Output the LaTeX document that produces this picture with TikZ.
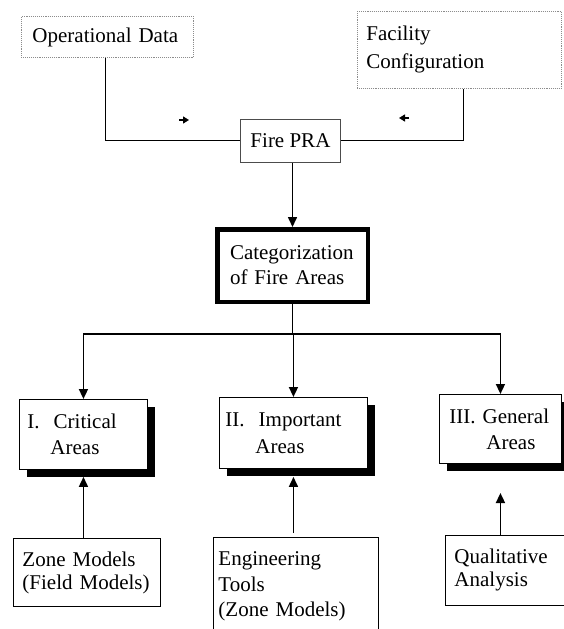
\documentclass[tikz,border=0pt]{standalone}
\usepackage{fontspec}
\setmainfont{Liberation Serif}
\usetikzlibrary{arrows.meta}
\usetikzlibrary{shadows}
\usetikzlibrary{calc}

\begin{document}
\begin{tikzpicture}[x=1pt, y=-1pt,
      font=\fontsize{21}{25}\selectfont,
      box/.style={draw=black, line width=0.9pt, anchor=north west, align=left, inner ysep=0pt, fill=white},
      source/.style={box, draw=black!45, densely dotted},
      shade/.style={box, drop shadow={shadow xshift=8pt, shadow yshift=-8pt, fill=black, opacity=1}},
      link/.style={line width=1pt},
      feed/.style={line width=1.6pt, -{Triangle[width=9pt, length=10pt]}},
      stray/.style={line width=1.4pt, -{Triangle[width=7pt, length=6pt]}}
    ]
    \fill[white] (0,0) rectangle (563,629);
    \useasboundingbox (0,0) rectangle (563,629);

    % inputs
    \node [source, minimum width=172pt, minimum height=41pt, inner xsep=11pt, text width=150pt] (opdata) at (21,16) {Operational Data};
    \node [source, minimum width=204pt, minimum height=77pt, inner xsep=9pt, text width=186pt,
        font=\fontsize{21}{28}\selectfont] (facility) at (357,11) {Facility\\Configuration};
    \node [box, draw=black!70, minimum width=100pt, minimum height=43pt, inner xsep=0pt, align=center] (firepra) at (240,119) {Fire PRA};
    \node [box, line width=4.5pt, minimum width=150.5pt, minimum height=72.5pt, inner xsep=12.75pt, text width=125pt] (categ) at (215,227) {Categorization\\of Fire Areas};

    % area classes
    \node [shade, minimum width=128pt, minimum height=70pt, inner xsep=8pt, text width=112pt,
        font=\fontsize{21}{26}\selectfont] (boxI) at (19,399) {I.\ \ Critical\\\hspace*{23pt}Areas};
    \node [shade, minimum width=148pt, minimum height=71pt, inner xsep=6pt, text width=136pt,
        font=\fontsize{21}{27}\selectfont] (boxII) at (219,397) {II.\ \ Important\\\hspace*{30pt}Areas};
    \node [shade, minimum width=122pt, minimum height=69pt, inner xsep=10pt, text width=102pt,
        font=\fontsize{21}{26}\selectfont] (boxIII) at (439,394) {III.\ General\\\hspace*{37pt}Areas};

    % tools
    \node [box, minimum width=147pt, minimum height=68pt, inner xsep=9pt, text width=129pt,
        font=\fontsize{21}{23}\selectfont] (zone) at (13,538) {Zone Models\\(Field Models)};
    \node [box, minimum width=165pt, minimum height=98pt, inner xsep=5pt, text width=155pt,
        font=\fontsize{21}{25.5}\selectfont] (eng) at (213,537) {Engineering\\Tools\\(Zone Models)};
    \node [box, minimum width=125pt, minimum height=70pt, inner xsep=9pt, text width=107pt,
        font=\fontsize{21}{23}\selectfont] (qual) at (445,535) {Qualitative\\Analysis};

    \draw[link] ([xshift=84pt]opdata.south west) |- (firepra.west);
    \draw[link] ([xshift=106pt]facility.south west) |- (firepra.east);
    \draw[stray] (179,120) -- (189,120);
    \draw[stray] (409,118) -- (399,118);
    \draw[feed] (categ.north |- firepra.south) -- (categ.north);

    \coordinate (split) at ($(categ.south)+(0,30)$);
    \draw[link] (categ.south) -- (split);
    \draw[feed] (split) -| (boxI.north);
    \draw[feed] (split) -| (boxII.north);
    \draw[feed] (split) -| (boxIII.north);

    \draw[feed] (zone.north -| boxI.south) -- ([yshift=-7pt]boxI.south);
    \draw[feed] ($(eng.north -| boxII.south)+(0,-4)$) -- ([yshift=-8pt]boxII.south);
    \draw[feed] (qual.north -| boxIII.south) -- ++(0,-42);

\end{tikzpicture}
\end{document}
